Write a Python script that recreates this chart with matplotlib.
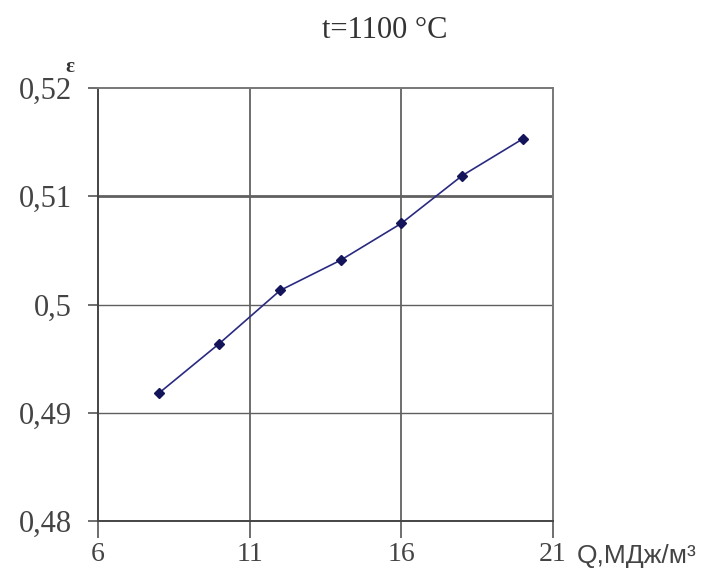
import matplotlib
matplotlib.use('Agg')
import matplotlib.pyplot as plt

# данные
q = [8, 10, 12, 14, 16, 18, 20]
eps = [0.4918, 0.4964, 0.5013, 0.5041, 0.5075, 0.5119, 0.5153]
x_ticks = [6, 11, 16, 21]
y_ticks = [0.48, 0.49, 0.50, 0.51, 0.52]
y_labels = ['0,48', '0,49', '0,5', '0,51', '0,52']

plt.rcParams['font.family'] = ['Liberation Serif', 'DejaVu Serif']

fig = plt.figure(figsize=(7.1, 5.79), dpi=100)
ax = fig.add_axes([0.138, 0.100, 0.641, 0.748])

ax.plot(q, eps, '-', color='#2a2a80', lw=1.2, marker='D', ms=5,
        mfc='#14145a', mec='#14145a', zorder=3)

ax.set_xlim(6, 21)
ax.set_ylim(0.48, 0.52)
ax.set_xticks(x_ticks)
ax.set_yticks(y_ticks)
ax.set_yticklabels(y_labels)
ax.tick_params(axis='both', direction='out', width=1.2,
               color='#555555', labelsize=22, labelcolor='#444444')
ax.tick_params(axis='x', length=12, pad=3, labelsize=20)
ax.tick_params(axis='y', length=7, pad=12)

# сетка
for x in x_ticks[1:-1]:
    ax.axvline(x, color='#555555', lw=1.2, zorder=1)
for y, w in [(0.49, 1.0), (0.50, 1.0), (0.51, 2.0)]:
    ax.axhline(y, color='#606060', lw=w, zorder=1)

for side in ['left', 'bottom']:
    ax.spines[side].set_color('#444444')
    ax.spines[side].set_linewidth(1.4)
for side in ['top', 'right']:
    ax.spines[side].set_color('#777777')
    ax.spines[side].set_linewidth(1.4)

fig.text(0.542, 0.948, 't=1100 °C', ha='center', va='center', fontsize=22,
         color='#333333')
fig.text(0.099, 0.884, 'ε', ha='center', va='center', fontsize=15,
         color='#333333', fontweight='bold')
fig.text(0.813, 0.040, 'Q,МДж/м³', ha='left', va='center', fontsize=19,
         color='#444444', family=['Liberation Sans', 'DejaVu Sans'])

plt.savefig('out.png', dpi=100)
